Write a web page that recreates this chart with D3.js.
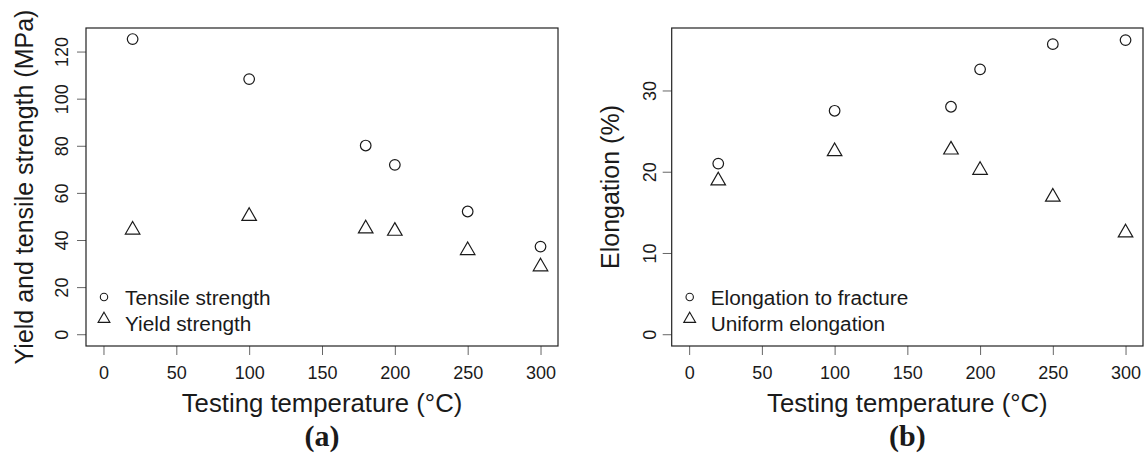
<!DOCTYPE html>
<html>
<head>
<meta charset="utf-8">
<script src="https://cdn.jsdelivr.net/npm/d3@7"></script>
<style>
  body { margin: 0; background: #fff; }
  text { font-family: "Liberation Sans", Arial, sans-serif; fill: #1a1a1a; }
</style>
</head>
<body>
<div id="chart"></div>
<script>
// data
const temps = [20, 100, 180, 200, 250, 300];
const tensile = [125.3, 108.3, 80.1, 71.9, 52.1, 37.2];
const yieldStr = [44.3, 50.1, 44.8, 43.8, 35.6, 28.7];
const fracture = [21.0, 27.5, 28.0, 32.6, 35.7, 36.2];
const uniform = [18.9, 22.5, 22.7, 20.2, 16.9, 12.5];

const xTicks = [0, 50, 100, 150, 200, 250, 300];
const yTicksA = [0, 20, 40, 60, 80, 100, 120];
const yTicksB = [0, 10, 20, 30];

const W = 1145, H = 462;
const svg = d3.select('#chart').append('svg')
  .attr('width', W).attr('height', H);

// R style range padding (4%)
function pad(lo, hi) {
  const d = (hi - lo) * 0.04;
  return [lo - d, hi + d];
}

const triangle = s => {
  const r = 1.5551 * s, xc = 1.3468 * s, yc = 0.7776 * s;
  return `M0,${-r}L${xc},${yc}L${-xc},${yc}Z`;
};

function panel(opt) {
  const { left, right, top, bottom } = opt.box;
  const g = svg.append('g');

  const x = d3.scaleLinear().domain(pad(0, 300)).range([left, right]);
  const y = d3.scaleLinear().domain(pad(0, opt.ymax)).range([bottom, top]);

  // x axis
  const gx = g.append('g')
    .attr('transform', `translate(0, ${bottom})`)
    .call(d3.axisBottom(x).tickValues(xTicks).tickSize(9).tickFormat(d3.format('d')));
  gx.select('.domain').remove();
  gx.selectAll('line').attr('stroke', '#666');
  gx.selectAll('text').attr('y', 33).attr('dy', 0)
    .style('font-size', '18px').attr('fill', '#1a1a1a');

  // y axis, labels parallel to axis
  const gy = g.append('g')
    .attr('transform', `translate(${left}, 0)`)
    .call(d3.axisLeft(y).tickValues(opt.yTicks).tickSize(9).tickFormat(d3.format('d')));
  gy.select('.domain').remove();
  gy.selectAll('line').attr('stroke', '#666');
  gy.selectAll('text')
    .attr('x', 0).attr('dy', 0)
    .attr('transform', `translate(${-opt.labOff}, 0) rotate(-90)`)
    .attr('text-anchor', 'middle')
    .style('font-size', '18px').attr('fill', '#1a1a1a');

  // box
  g.append('rect')
    .attr('x', left).attr('y', top)
    .attr('width', right - left).attr('height', bottom - top)
    .attr('fill', 'none').attr('stroke', '#222').attr('stroke-width', 1.2);

  // points
  g.selectAll('.circ').data(temps).enter().append('circle')
    .attr('cx', d => x(d))
    .attr('cy', (d, i) => y(opt.s1[i]))
    .attr('r', 5.3)
    .attr('fill', 'none').attr('stroke', '#1a1a1a').attr('stroke-width', 1.2);

  g.selectAll('.tri').data(temps).enter().append('path')
    .attr('d', triangle(5.4))
    .attr('transform', (d, i) => `translate(${x(d)}, ${y(opt.s2[i])})`)
    .attr('fill', 'none').attr('stroke', '#1a1a1a').attr('stroke-width', 1.2);

  // legend
  const lg = g.append('g').attr('transform', `translate(${left}, 0)`);
  lg.append('circle').attr('cx', 18).attr('cy', 297).attr('r', 3.7)
    .attr('fill', 'none').attr('stroke', '#1a1a1a').attr('stroke-width', 1.1);
  lg.append('path').attr('d', triangle(4.4))
    .attr('transform', 'translate(18, 319)')
    .attr('fill', 'none').attr('stroke', '#1a1a1a').attr('stroke-width', 1.1);
  opt.leg.forEach((t, i) => {
    lg.append('text')
      .attr('transform', `translate(39, ${304.5 + i * 26}) scale(1.04, 1)`)
      .style('font-size', '20px').text(t);
  });

  // axis titles
  const cx = (left + right) / 2, cy = (top + bottom) / 2;
  g.append('text')
    .attr('transform', `translate(${cx}, 412) scale(1.03, 1)`)
    .attr('text-anchor', 'middle')
    .style('font-size', '25px').text('Testing temperature (°C)');
  g.append('text')
    .attr('transform', `translate(${left - 53}, ${cy}) rotate(-90)`)
    .attr('text-anchor', 'middle')
    .style('font-size', '25px').text(opt.ylab);

  // panel tag
  g.append('text').attr('x', cx).attr('y', 446).attr('text-anchor', 'middle')
    .style('font-family', '"Liberation Serif", "Times New Roman", serif')
    .style('font-weight', 'bold').style('font-size', '30px')
    .text(opt.tag);
}

panel({
  box: { left: 86, right: 558, top: 28, bottom: 346 },
  ymax: 125, yTicks: yTicksA, labOff: 18,
  s1: tensile, s2: yieldStr,
  leg: ['Tensile strength', 'Yield strength'],
  ylab: 'Yield and tensile strength (MPa)', tag: '(a)'
});

panel({
  box: { left: 671.7, right: 1143, top: 28, bottom: 346 },
  ymax: 36.24, yTicks: yTicksB, labOff: 16,
  s1: fracture, s2: uniform,
  leg: ['Elongation to fracture', 'Uniform elongation'],
  ylab: 'Elongation (%)', tag: '(b)'
});
</script>
</body>
</html>
